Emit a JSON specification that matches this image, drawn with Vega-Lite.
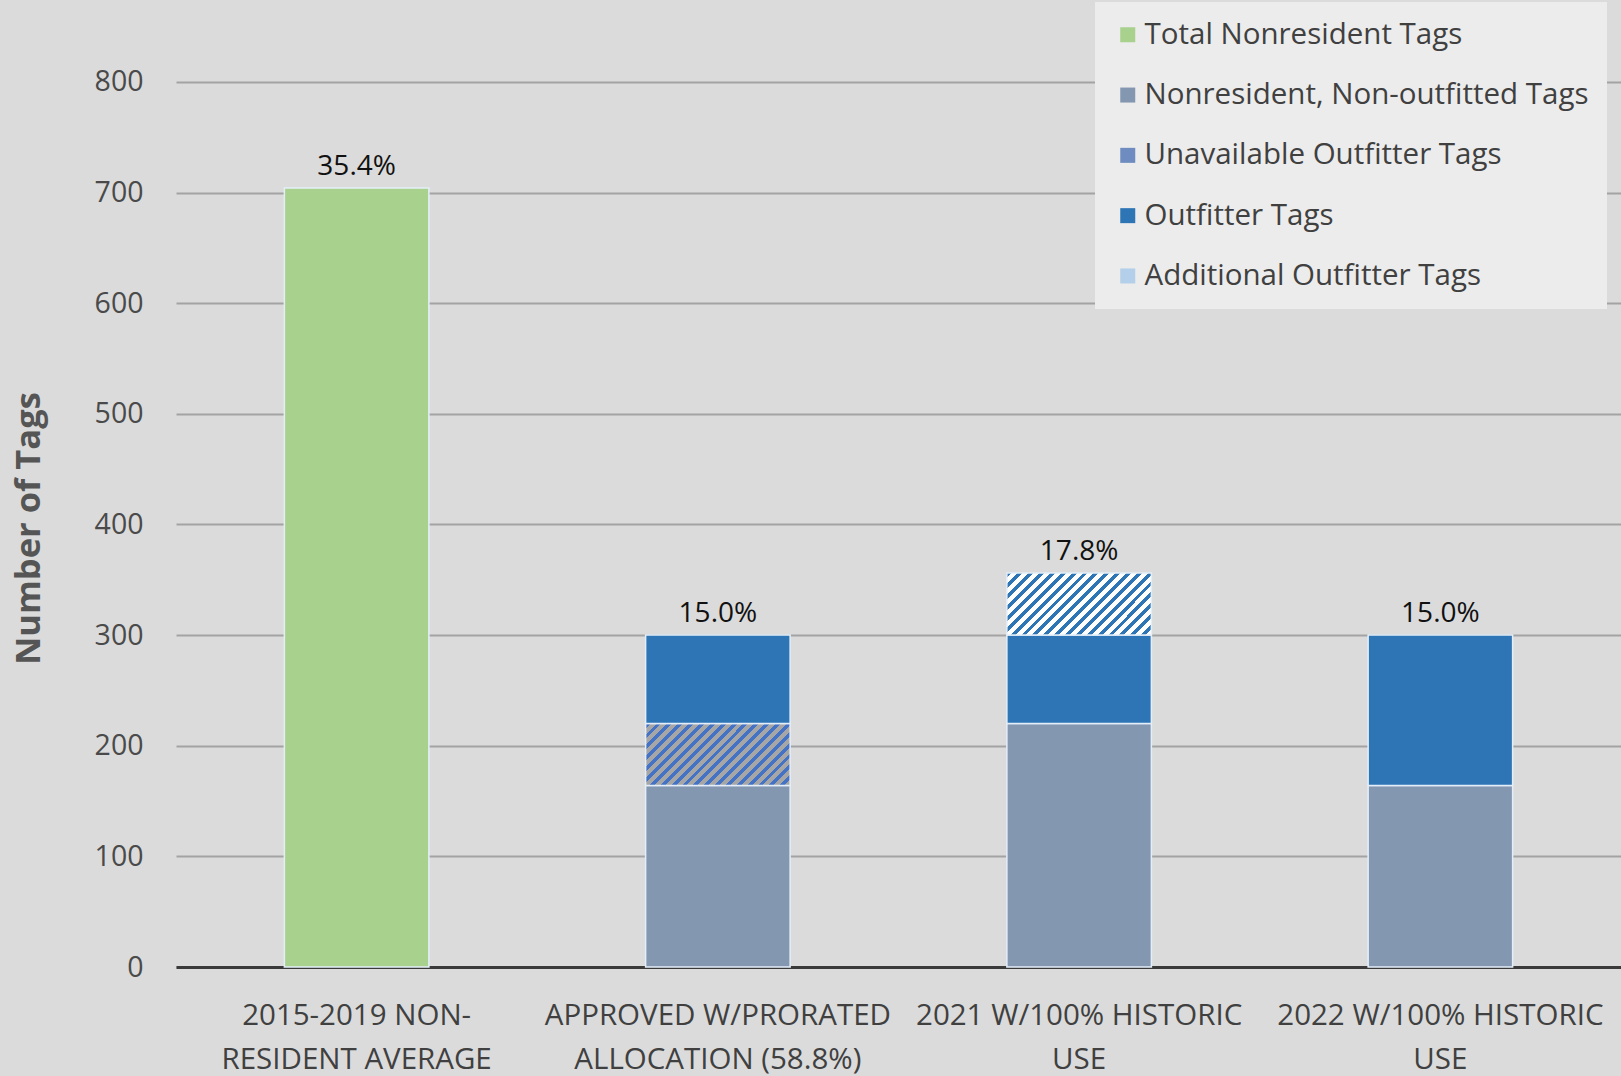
{
  "$schema": "https://vega.github.io/schema/vega-lite/v6.json",
  "autosize": "none",
  "width": 1445,
  "height": 967,
  "padding": {"left": 176, "top": 0, "right": 0, "bottom": 109},
  "background": "#dbdbdb",
  "config": {
    "font": "Open Sans",
    "view": {"stroke": null}
  },
  "datasets": {
    "bars": [
      {"cat": "2015-2019 NON-|RESIDENT AVERAGE", "series": "Total Nonresident Tags", "value": 704, "ord": 0},
      {"cat": "APPROVED W/PRORATED|ALLOCATION (58.8%)", "series": "Nonresident, Non-outfitted Tags", "value": 164, "ord": 1},
      {"cat": "APPROVED W/PRORATED|ALLOCATION (58.8%)", "series": "Unavailable Outfitter Tags", "value": 56, "ord": 2},
      {"cat": "APPROVED W/PRORATED|ALLOCATION (58.8%)", "series": "Outfitter Tags", "value": 80, "ord": 3},
      {"cat": "2021 W/100% HISTORIC|USE", "series": "Nonresident, Non-outfitted Tags", "value": 220, "ord": 1},
      {"cat": "2021 W/100% HISTORIC|USE", "series": "Outfitter Tags", "value": 80, "ord": 3},
      {"cat": "2021 W/100% HISTORIC|USE", "series": "Additional Outfitter Tags", "value": 56, "ord": 4},
      {"cat": "2022 W/100% HISTORIC|USE", "series": "Nonresident, Non-outfitted Tags", "value": 164, "ord": 1},
      {"cat": "2022 W/100% HISTORIC|USE", "series": "Outfitter Tags", "value": 136, "ord": 3}
    ],
    "labels": [
      {"cat": "2015-2019 NON-|RESIDENT AVERAGE", "total": 704, "pct": "35.4%"},
      {"cat": "APPROVED W/PRORATED|ALLOCATION (58.8%)", "total": 300, "pct": "15.0%"},
      {"cat": "2021 W/100% HISTORIC|USE", "total": 356, "pct": "17.8%"},
      {"cat": "2022 W/100% HISTORIC|USE", "total": 300, "pct": "15.0%"}
    ]
  },
  "layer": [
    {
      "data": {"name": "bars"},
      "mark": {"type": "bar", "stroke": "#e4eef9", "strokeWidth": 1.5},
      "encoding": {
        "x": {
          "field": "cat", "type": "nominal",
          "sort": ["2015-2019 NON-|RESIDENT AVERAGE", "APPROVED W/PRORATED|ALLOCATION (58.8%)", "2021 W/100% HISTORIC|USE", "2022 W/100% HISTORIC|USE"],
          "scale": {"paddingInner": 0.6, "paddingOuter": 0.3},
          "axis": {
            "title": null, "labelAngle": 0, "ticks": false,
            "domainColor": "#3a3a3a", "domainWidth": 3,
            "labelExpr": "split(datum.label, '|')",
            "labelFont": "Open Sans", "labelFontSize": 29.5, "labelColor": "#404040",
            "labelLineHeight": 44, "labelPadding": 34, "labelBaseline": "top", "labelLimit": 400
          }
        },
        "y": {
          "field": "value", "type": "quantitative", "stack": "zero",
          "scale": {"domain": [0, 874], "nice": false},
          "axis": {
            "title": "Number of Tags",
            "values": [0, 100, 200, 300, 400, 500, 600, 700, 800],
            "domain": false, "ticks": false,
            "gridColor": "#a3a3a3", "gridWidth": 2,
            "labelFont": "Open Sans", "labelFontSize": 28.5, "labelColor": "#4a4a4a", "labelPadding": 33,
            "titleFont": "Open Sans", "titleFontSize": 34.5, "titleFontWeight": "bold", "titleColor": "#555555",
            "titleX": -147, "titleY": 528, "titleAngle": -90, "titleAlign": "center", "titleBaseline": "middle"
          }
        },
        "order": {"field": "ord", "type": "quantitative"},
        "color": {
          "condition": [
            {"test": "datum.series === 'Unavailable Outfitter Tags'", "value": {"gradient": "linear", "x1": 0, "y1": 0, "x2": 1.207, "y2": 0.517, "stops": [
              {"offset": 0, "color": "#4472c4"}, {"offset": 0.0237, "color": "#4472c4"}, {"offset": 0.0237, "color": "#a6a6a6"}, {"offset": 0.0526, "color": "#a6a6a6"},
              {"offset": 0.0526, "color": "#4472c4"}, {"offset": 0.0763, "color": "#4472c4"}, {"offset": 0.0763, "color": "#a6a6a6"}, {"offset": 0.1053, "color": "#a6a6a6"},
              {"offset": 0.1053, "color": "#4472c4"}, {"offset": 0.1289, "color": "#4472c4"}, {"offset": 0.1289, "color": "#a6a6a6"}, {"offset": 0.1579, "color": "#a6a6a6"},
              {"offset": 0.1579, "color": "#4472c4"}, {"offset": 0.1816, "color": "#4472c4"}, {"offset": 0.1816, "color": "#a6a6a6"}, {"offset": 0.2105, "color": "#a6a6a6"},
              {"offset": 0.2105, "color": "#4472c4"}, {"offset": 0.2342, "color": "#4472c4"}, {"offset": 0.2342, "color": "#a6a6a6"}, {"offset": 0.2632, "color": "#a6a6a6"},
              {"offset": 0.2632, "color": "#4472c4"}, {"offset": 0.2868, "color": "#4472c4"}, {"offset": 0.2868, "color": "#a6a6a6"}, {"offset": 0.3158, "color": "#a6a6a6"},
              {"offset": 0.3158, "color": "#4472c4"}, {"offset": 0.3395, "color": "#4472c4"}, {"offset": 0.3395, "color": "#a6a6a6"}, {"offset": 0.3684, "color": "#a6a6a6"},
              {"offset": 0.3684, "color": "#4472c4"}, {"offset": 0.3921, "color": "#4472c4"}, {"offset": 0.3921, "color": "#a6a6a6"}, {"offset": 0.4211, "color": "#a6a6a6"},
              {"offset": 0.4211, "color": "#4472c4"}, {"offset": 0.4447, "color": "#4472c4"}, {"offset": 0.4447, "color": "#a6a6a6"}, {"offset": 0.4737, "color": "#a6a6a6"},
              {"offset": 0.4737, "color": "#4472c4"}, {"offset": 0.4974, "color": "#4472c4"}, {"offset": 0.4974, "color": "#a6a6a6"}, {"offset": 0.5263, "color": "#a6a6a6"},
              {"offset": 0.5263, "color": "#4472c4"}, {"offset": 0.55, "color": "#4472c4"}, {"offset": 0.55, "color": "#a6a6a6"}, {"offset": 0.5789, "color": "#a6a6a6"},
              {"offset": 0.5789, "color": "#4472c4"}, {"offset": 0.6026, "color": "#4472c4"}, {"offset": 0.6026, "color": "#a6a6a6"}, {"offset": 0.6316, "color": "#a6a6a6"},
              {"offset": 0.6316, "color": "#4472c4"}, {"offset": 0.6553, "color": "#4472c4"}, {"offset": 0.6553, "color": "#a6a6a6"}, {"offset": 0.6842, "color": "#a6a6a6"},
              {"offset": 0.6842, "color": "#4472c4"}, {"offset": 0.7079, "color": "#4472c4"}, {"offset": 0.7079, "color": "#a6a6a6"}, {"offset": 0.7368, "color": "#a6a6a6"},
              {"offset": 0.7368, "color": "#4472c4"}, {"offset": 0.7605, "color": "#4472c4"}, {"offset": 0.7605, "color": "#a6a6a6"}, {"offset": 0.7895, "color": "#a6a6a6"},
              {"offset": 0.7895, "color": "#4472c4"}, {"offset": 0.8132, "color": "#4472c4"}, {"offset": 0.8132, "color": "#a6a6a6"}, {"offset": 0.8421, "color": "#a6a6a6"},
              {"offset": 0.8421, "color": "#4472c4"}, {"offset": 0.8658, "color": "#4472c4"}, {"offset": 0.8658, "color": "#a6a6a6"}, {"offset": 0.8947, "color": "#a6a6a6"},
              {"offset": 0.8947, "color": "#4472c4"}, {"offset": 0.9184, "color": "#4472c4"}, {"offset": 0.9184, "color": "#a6a6a6"}, {"offset": 0.9474, "color": "#a6a6a6"},
              {"offset": 0.9474, "color": "#4472c4"}, {"offset": 0.9711, "color": "#4472c4"}, {"offset": 0.9711, "color": "#a6a6a6"}, {"offset": 1, "color": "#a6a6a6"}
            ]}},
            {"test": "datum.series === 'Additional Outfitter Tags'", "value": {"gradient": "linear", "x1": 0, "y1": 0, "x2": 1.207, "y2": 0.517, "stops": [
              {"offset": 0, "color": "#2e75b6"}, {"offset": 0.0237, "color": "#2e75b6"}, {"offset": 0.0237, "color": "#ffffff"}, {"offset": 0.0526, "color": "#ffffff"},
              {"offset": 0.0526, "color": "#2e75b6"}, {"offset": 0.0763, "color": "#2e75b6"}, {"offset": 0.0763, "color": "#ffffff"}, {"offset": 0.1053, "color": "#ffffff"},
              {"offset": 0.1053, "color": "#2e75b6"}, {"offset": 0.1289, "color": "#2e75b6"}, {"offset": 0.1289, "color": "#ffffff"}, {"offset": 0.1579, "color": "#ffffff"},
              {"offset": 0.1579, "color": "#2e75b6"}, {"offset": 0.1816, "color": "#2e75b6"}, {"offset": 0.1816, "color": "#ffffff"}, {"offset": 0.2105, "color": "#ffffff"},
              {"offset": 0.2105, "color": "#2e75b6"}, {"offset": 0.2342, "color": "#2e75b6"}, {"offset": 0.2342, "color": "#ffffff"}, {"offset": 0.2632, "color": "#ffffff"},
              {"offset": 0.2632, "color": "#2e75b6"}, {"offset": 0.2868, "color": "#2e75b6"}, {"offset": 0.2868, "color": "#ffffff"}, {"offset": 0.3158, "color": "#ffffff"},
              {"offset": 0.3158, "color": "#2e75b6"}, {"offset": 0.3395, "color": "#2e75b6"}, {"offset": 0.3395, "color": "#ffffff"}, {"offset": 0.3684, "color": "#ffffff"},
              {"offset": 0.3684, "color": "#2e75b6"}, {"offset": 0.3921, "color": "#2e75b6"}, {"offset": 0.3921, "color": "#ffffff"}, {"offset": 0.4211, "color": "#ffffff"},
              {"offset": 0.4211, "color": "#2e75b6"}, {"offset": 0.4447, "color": "#2e75b6"}, {"offset": 0.4447, "color": "#ffffff"}, {"offset": 0.4737, "color": "#ffffff"},
              {"offset": 0.4737, "color": "#2e75b6"}, {"offset": 0.4974, "color": "#2e75b6"}, {"offset": 0.4974, "color": "#ffffff"}, {"offset": 0.5263, "color": "#ffffff"},
              {"offset": 0.5263, "color": "#2e75b6"}, {"offset": 0.55, "color": "#2e75b6"}, {"offset": 0.55, "color": "#ffffff"}, {"offset": 0.5789, "color": "#ffffff"},
              {"offset": 0.5789, "color": "#2e75b6"}, {"offset": 0.6026, "color": "#2e75b6"}, {"offset": 0.6026, "color": "#ffffff"}, {"offset": 0.6316, "color": "#ffffff"},
              {"offset": 0.6316, "color": "#2e75b6"}, {"offset": 0.6553, "color": "#2e75b6"}, {"offset": 0.6553, "color": "#ffffff"}, {"offset": 0.6842, "color": "#ffffff"},
              {"offset": 0.6842, "color": "#2e75b6"}, {"offset": 0.7079, "color": "#2e75b6"}, {"offset": 0.7079, "color": "#ffffff"}, {"offset": 0.7368, "color": "#ffffff"},
              {"offset": 0.7368, "color": "#2e75b6"}, {"offset": 0.7605, "color": "#2e75b6"}, {"offset": 0.7605, "color": "#ffffff"}, {"offset": 0.7895, "color": "#ffffff"},
              {"offset": 0.7895, "color": "#2e75b6"}, {"offset": 0.8132, "color": "#2e75b6"}, {"offset": 0.8132, "color": "#ffffff"}, {"offset": 0.8421, "color": "#ffffff"},
              {"offset": 0.8421, "color": "#2e75b6"}, {"offset": 0.8658, "color": "#2e75b6"}, {"offset": 0.8658, "color": "#ffffff"}, {"offset": 0.8947, "color": "#ffffff"},
              {"offset": 0.8947, "color": "#2e75b6"}, {"offset": 0.9184, "color": "#2e75b6"}, {"offset": 0.9184, "color": "#ffffff"}, {"offset": 0.9474, "color": "#ffffff"},
              {"offset": 0.9474, "color": "#2e75b6"}, {"offset": 0.9711, "color": "#2e75b6"}, {"offset": 0.9711, "color": "#ffffff"}, {"offset": 1, "color": "#ffffff"}
            ]}}
          ],
          "field": "series", "type": "nominal",
          "scale": {
            "domain": ["Total Nonresident Tags", "Nonresident, Non-outfitted Tags", "Unavailable Outfitter Tags", "Outfitter Tags", "Additional Outfitter Tags"],
            "range": ["#a9d18e", "#8497b0", "#6f8cc0", "#2e75b6", "#b3cfe9"]
          },
          "legend": {
            "title": null, "orient": "none", "legendX": 919, "legendY": 2,
            "direction": "vertical",
            "fillColor": "#ececec", "padding": 18,
            "symbolType": "square", "symbolSize": 225, "symbolStrokeWidth": 0,
            "labelFont": "Open Sans", "labelFontSize": 29.5, "labelColor": "#404040", "labelOffset": 2,
            "rowPadding": 29.3, "labelLimit": 600
          }
        }
      }
    },
    {
      "data": {"name": "labels"},
      "mark": {"type": "text", "baseline": "bottom", "dy": -7, "fontSize": 28, "font": "Open Sans", "color": "#111111"},
      "encoding": {
        "x": {"field": "cat", "type": "nominal", "sort": ["2015-2019 NON-|RESIDENT AVERAGE", "APPROVED W/PRORATED|ALLOCATION (58.8%)", "2021 W/100% HISTORIC|USE", "2022 W/100% HISTORIC|USE"], "title": null},
        "y": {"field": "total", "type": "quantitative", "title": "Number of Tags"},
        "text": {"field": "pct", "type": "nominal"}
      }
    }
  ]
}
